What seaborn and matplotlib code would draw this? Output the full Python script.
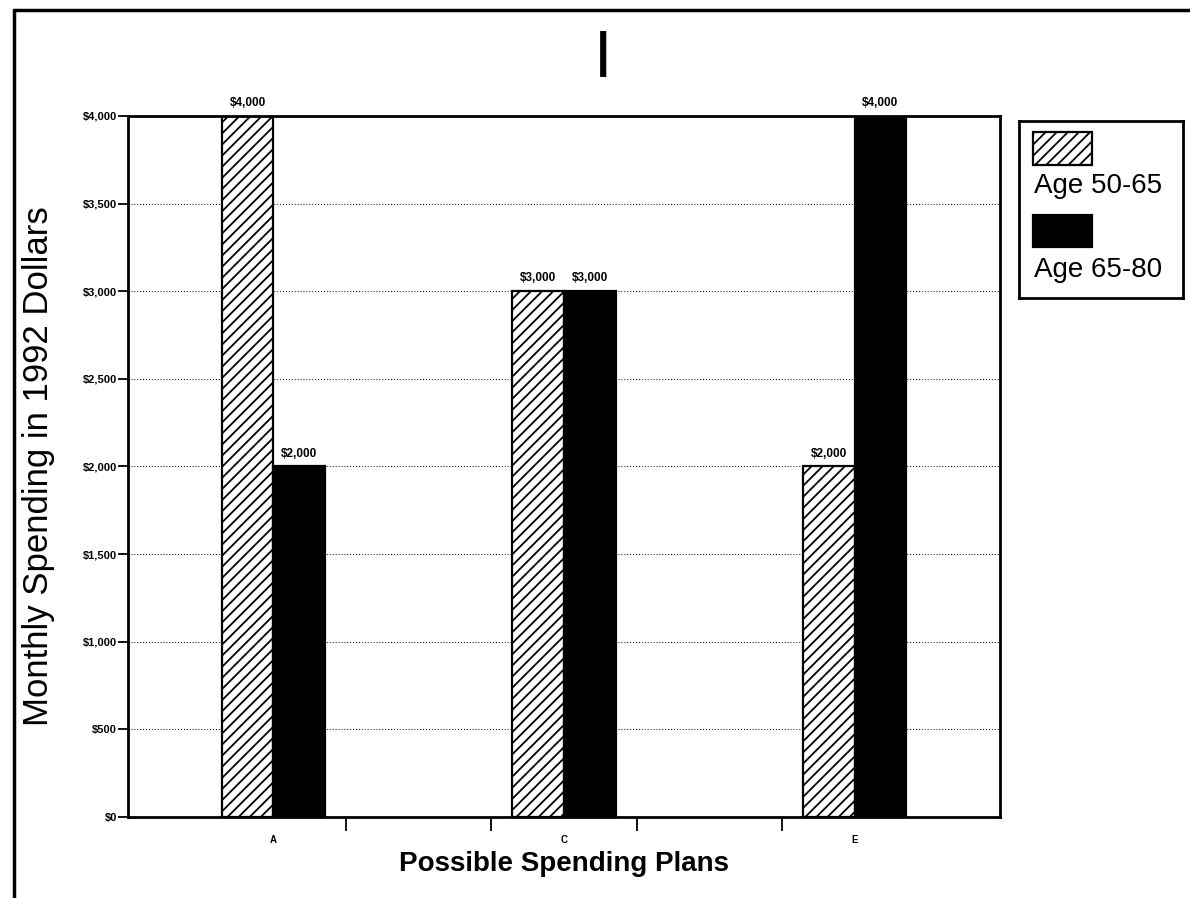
import matplotlib
matplotlib.use("Agg")
import matplotlib.pyplot as plt
from matplotlib.patches import Rectangle
from matplotlib.lines import Line2D
import seaborn as sns
import pandas as pd
import numpy as np

# ---- data -------------------------------------------------------------
plans = ["A", "C", "E"]
slots = ["A", "B", "C", "D", "E"]          # B and D are empty plan slots
age_50_65 = [4000, 3000, 2000]
age_65_80 = [2000, 3000, 4000]
groups = ["Age 50-65", "Age 65-80"]
y_ticks = [0, 500, 1000, 1500, 2000, 2500, 3000, 3500, 4000]
chart_title = "I"
y_title = "Monthly Spending in 1992 Dollars"
x_title = "Possible Spending Plans"

df = pd.DataFrame({
    "plan": plans * 2,
    "group": [groups[0]] * len(plans) + [groups[1]] * len(plans),
    "spend": age_50_65 + age_65_80,
})

HATCH = "///"

# ---- style ------------------------------------------------------------
sns.set_theme(style="white")
plt.rcParams["font.family"] = ["Liberation Sans", "DejaVu Sans"]
plt.rcParams["hatch.linewidth"] = 1.3
plt.rcParams["hatch.color"] = "black"
for key in ("text.color", "axes.labelcolor", "xtick.color", "ytick.color"):
    plt.rcParams[key] = "black"

fig = plt.figure(figsize=(11.9, 8.98), dpi=100)
ax = fig.add_axes([128 / 1190, 1 - 817 / 898, (1000 - 128) / 1190, (817 - 116) / 898])

sns.barplot(
    data=df, x="plan", y="spend", hue="group", order=slots, hue_order=groups,
    palette={groups[0]: "white", groups[1]: "black"},
    edgecolor="black", linewidth=1.6, width=0.71, gap=0, ax=ax,
    legend=False, saturation=1,
)

hatched, solid = ax.containers[0], ax.containers[1]
for p in hatched:
    p.set_hatch(HATCH)
    p.set_facecolor("white")
for p in solid:
    p.set_facecolor("black")

for cont, vals in ((hatched, age_50_65), (solid, age_65_80)):
    ax.bar_label(cont, labels=[f"${v:,.0f}" for v in vals], padding=5,
                 fontsize=8.5, fontweight="bold", color="black")

# ---- axes -------------------------------------------------------------
ax.set_xlim(-1, len(slots))
ax.set_ylim(0, 4000)
ax.set_yticks(y_ticks)
ax.set_yticklabels([f"${v:,}" for v in y_ticks], fontsize=8, fontweight="bold")
ax.set_xticks([slots.index(p) for p in plans])
ax.set_xticklabels(plans, fontsize=7, fontweight="bold")
ax.set_xticks(np.arange(len(slots) - 1) + 0.5, minor=True)
ax.tick_params(axis="x", which="major", length=0, pad=13)
ax.tick_params(axis="x", which="minor", length=10, width=1.3, direction="out",
               color="black", bottom=True)
ax.tick_params(axis="y", which="major", length=7, width=1.3, direction="out",
               color="black", left=True, pad=1)

ax.yaxis.grid(True, linestyle=(0, (1, 2)), color="black", linewidth=0.7)
ax.set_axisbelow(True)
for s in ax.spines.values():
    s.set_visible(True)
    s.set_color("black")
    s.set_linewidth(2)

ax.set_ylabel(y_title, fontsize=25, labelpad=20, color="black")
ax.set_xlabel(x_title, fontsize=20, fontweight="bold", labelpad=4, color="black")

# ---- title ------------------------------------------------------------
fig.text(603 / 1190, 1 - 60 / 898, chart_title, fontsize=48,
         ha="center", va="center", color="black")

# ---- legend (text stacked under each swatch) -------------------------
lax = fig.add_axes([1019 / 1190, 1 - 298 / 898, 164 / 1190, 177 / 898])
lax.set_xlim(0, 1)
lax.set_ylim(0, 1)
lax.set_xticks([])
lax.set_yticks([])
for s in lax.spines.values():
    s.set_visible(True)
    s.set_color("black")
    s.set_linewidth(2)
lax.add_patch(Rectangle((0.085, 0.751), 0.36, 0.187, facecolor="white",
                        edgecolor="black", linewidth=1.6, hatch=HATCH))
lax.text(0.09, 0.633, groups[0], fontsize=20, va="center", ha="left", color="black")
lax.add_patch(Rectangle((0.085, 0.288), 0.36, 0.181, facecolor="black",
                        edgecolor="black", linewidth=1.6))
lax.text(0.09, 0.158, groups[1], fontsize=20, va="center", ha="left", color="black")

# ---- page border ------------------------------------------------------
fig.add_artist(Line2D([14 / 1190, 1.0], [1 - 10 / 898, 1 - 10 / 898],
                      transform=fig.transFigure, color="black", linewidth=2.5))
fig.add_artist(Line2D([14 / 1190, 14 / 1190], [0, 1 - 10 / 898],
                      transform=fig.transFigure, color="black", linewidth=2.5))

fig.savefig("out.png", dpi=100)
